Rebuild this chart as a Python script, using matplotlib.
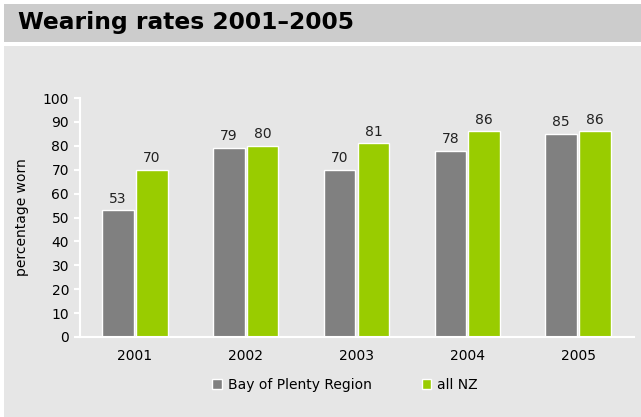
import matplotlib.pyplot as plt
import numpy as np
from matplotlib.patches import Rectangle

years = ['2001', '2002', '2003', '2004', '2005']
bay_of_plenty = [53, 79, 70, 78, 85]
all_nz = [70, 80, 81, 86, 86]

grey = '#808080'
green = '#99cc00'
panel = '#e6e6e6'

fig = plt.figure(figsize=(6.41, 4.17), dpi=100)
fig.patch.set_facecolor('white')

# header bar and chart panel, kept behind the axes
fig.add_artist(Rectangle((4 / 641, 1 - 42 / 417), 1, 38 / 417, transform=fig.transFigure,
                         facecolor='#cccccc', edgecolor='none', zorder=-2))
fig.add_artist(Rectangle((4 / 641, 0), 1, 1 - 46 / 417, transform=fig.transFigure,
                         facecolor=panel, edgecolor='none', zorder=-2))
fig.text(18 / 641, 1 - 23 / 417, 'Wearing rates 2001\u20132005', fontsize=16.8, fontweight='bold',
         va='center', ha='left')

ax = fig.add_axes([79.5 / 641, 1 - 337 / 417, 554 / 641, 239 / 417])
ax.set_facecolor(panel)
ax.patch.set_alpha(0)
x = np.arange(len(years))
w = 0.285
b1 = ax.bar(x - w / 2 - 0.01, bay_of_plenty, w, color=grey, edgecolor='white', linewidth=1,
            label='Bay of Plenty Region')
b2 = ax.bar(x + w / 2 + 0.01, all_nz, w, color=green, edgecolor='white', linewidth=1, label='all NZ')
for bars, vals in ((b1, bay_of_plenty), (b2, all_nz)):
    for r, v in zip(bars, vals):
        ax.text(r.get_x() + r.get_width() / 2, v + 2, str(v), ha='center', va='bottom',
                fontsize=10, color='#222222')

ax.set_xlim(-0.5, 4.5)
ax.set_ylim(0, 100)
ax.set_yticks(range(0, 101, 10))
ax.set_xticks(x)
ax.set_xticklabels(years)
for s in ('top', 'right'):
    ax.spines[s].set_visible(False)
for s in ('left', 'bottom'):
    ax.spines[s].set_color('white')
    ax.spines[s].set_linewidth(1.5)
ax.tick_params(axis='y', colors='white', labelcolor='black', length=4, width=1.5, labelsize=10)
ax.tick_params(axis='x', length=0, labelsize=10, pad=9)
ax.set_ylabel('percentage worn', fontsize=10, labelpad=10)

leg = fig.legend(handles=[b1, b2], loc='center', bbox_to_anchor=(345 / 641, 1 - 385 / 417), ncol=2,
                 frameon=False, fontsize=10, handlelength=0.7, handleheight=0.7,
                 columnspacing=3.6, handletextpad=0.4)

fig.savefig('out.png', dpi=100)
